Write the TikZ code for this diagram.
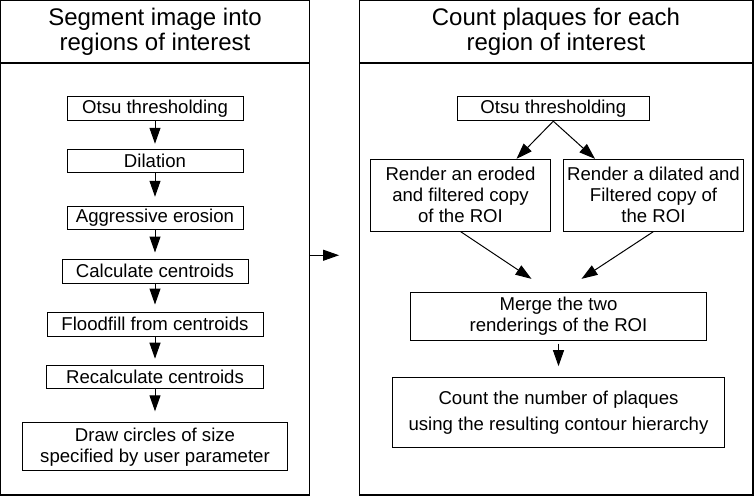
\documentclass[tikz,border=0pt]{standalone}
\usepackage{fontspec}
\setmainfont{Liberation Sans}
\usetikzlibrary{arrows.meta}
\begin{document}
\begin{tikzpicture}[
  x=1pt, y=1pt,
  node distance=53pt,
  panel/.style={draw, line width=1.3pt, minimum width=#1, minimum height=494.5pt, inner sep=0pt},
  title/.style={align=center, font=\fontsize{24}{25}\selectfont},
  box/.style={draw, line width=1pt, align=center, inner sep=1pt, font=\fontsize{18.6}{21}\selectfont},
  flow/.style={-{Triangle[length=16pt,width=11pt]}, line width=1pt, shorten >=#1},
  flow/.default=0pt
]
\useasboundingbox (0,0) rectangle (755,-496);

\node[panel=309pt] (segpanel) at (155,-247.75) {};
\node[panel=393.3pt] (cntpanel) at (556.35,-247.75) {};
\draw[line width=2pt] ([yshift=-63pt]segpanel.north west) -- ([yshift=-63pt]segpanel.north east);
\draw[line width=1.3pt] ([yshift=-63pt]cntpanel.north west) -- ([yshift=-63pt]cntpanel.north east);
\node[title] (segtitle) at (155,-31.5) {Segment image into\\regions of interest};
\node[title] (cnttitle) at (556,-31.5) {Count plaques for each\\region of interest};

\node[box, minimum width=176pt, minimum height=23.5pt] (otsu) at (155,-108.3) {Otsu thresholding};
\node[box, minimum width=176pt, minimum height=23.5pt] (dilate) [below of=otsu, node distance=52.7pt] {Dilation};
\node[box, minimum width=176pt, minimum height=23.5pt] (erode) [below of=dilate, node distance=57pt] {Aggressive erosion};
\node[box, minimum width=186pt, minimum height=24pt] (centroid) [below of=erode] {Calculate centroids};
\node[box, minimum width=216pt, minimum height=24pt] (flood) [below of=centroid] {Floodfill from centroids};
\node[box, minimum width=217pt, minimum height=23.6pt] (recalc) [below of=flood] {Recalculate centroids};
\node[box, minimum width=265pt, minimum height=48pt] (circles) [below of=recalc, node distance=69.8pt] {Draw circles of size\\specified by user parameter};

\draw[flow=5pt] (otsu) -- (dilate);
\draw[flow=9pt] (dilate) -- (erode);
\draw[flow=6pt] (erode) -- (centroid);
\draw[flow=7pt] (centroid) -- (flood);
\draw[flow=6pt] (flood) -- (recalc);
\draw[flow=11pt] (recalc) -- (circles);

\node[box, minimum width=192pt, minimum height=24pt] (otsuroi) at (553.3,-108.7) {Otsu thresholding};
\node[box, minimum width=180.4pt, minimum height=71.7pt] (eroded) at (460.5,-195.2) {Render an eroded\\and filtered copy\\of the ROI};
\node[box, minimum width=180.4pt, minimum height=71.7pt] (dilated) [right of=eroded, node distance=193pt] {Render a dilated and\\Filtered copy of\\the ROI};
\node[box, minimum width=296.6pt, minimum height=47.7pt] (merge) at (558.5,-316.2) {Merge the two\\renderings of the ROI};
\node[box, minimum width=331.7pt, minimum height=70pt] (count) [below of=merge, node distance=96.1pt] {Count the number of plaques\\[5pt]using the resulting contour hierarchy};

\draw[flow] (otsuroi.south) -- ([xshift=56pt]eroded.north);
\draw[flow] (otsuroi.south) -- ([xshift=-58.5pt]dilated.north);
\draw[flow] (eroded.south) -- ([xshift=-27pt,yshift=13pt]merge.north);
\draw[flow] (dilated.south) -- ([xshift=23pt,yshift=13pt]merge.north);
\draw[flow=10.6pt, shorten <=3pt] (merge) -- (count);

\draw[flow=20pt] ([yshift=-7.5pt]segpanel.east) -- ([yshift=-7.5pt]cntpanel.west);
\end{tikzpicture}
\end{document}
